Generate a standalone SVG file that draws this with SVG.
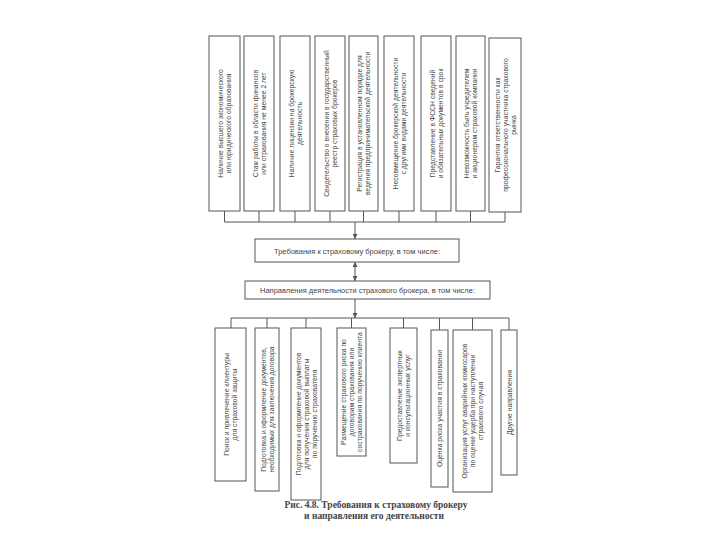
<svg xmlns="http://www.w3.org/2000/svg" width="720" height="540" viewBox="0 0 720 540">
<defs>
<marker id="ah" viewBox="0 0 6 6" refX="6" refY="3" markerWidth="5" markerHeight="5" markerUnits="userSpaceOnUse" orient="auto-start-reverse">
<path d="M0,0 L6,3 L0,6 z" fill="#555"/>
</marker>
<style>
rect.b{fill:#fff;stroke:#555;stroke-width:1}
text.t{font-family:"Liberation Sans",Arial,sans-serif;font-size:6.8px;fill:#444;text-anchor:middle}
text.m{font-family:"Liberation Sans",Arial,sans-serif;font-size:7.5px;fill:#444;text-anchor:middle}
text.c{font-family:"Liberation Serif","Times New Roman",serif;font-size:9.5px;font-weight:bold;fill:#444;text-anchor:middle}
.ln{fill:none;stroke:#555;stroke-width:1}
</style>
</defs>
<rect width="720" height="540" fill="#fff"/>

<g id="connectors">
<path class="ln" d="M224.5,211V222M259,211V222M295,211V222M330,211V222M363.5,211V222M399,211V222M436,211V222M470.5,211V222M505,212V222M224.5,222H505"/>
<path class="ln" d="M355,222V239" marker-end="url(#ah)"/>
<path class="ln" d="M355,262V281" marker-start="url(#ah)" marker-end="url(#ah)"/>
<path class="ln" d="M355,299V318" marker-end="url(#ah)"/>
<path class="ln" d="M231,318H509M231,318V328M267,318V328M306,318V328M351.5,318V328M403.5,318V328M439.5,318V330M472.5,318V330M509,318V330"/>
</g>

<g id="req1"><rect class="b" x="209" y="36" width="31" height="175"/>
<text class="t" transform="translate(224.5,123.5) rotate(-90)"><tspan x="0" y="-1.5">Наличие высшего экономического</tspan><tspan x="0" y="6.5">или юридического образования</tspan></text></g>
<g id="req2"><rect class="b" x="244" y="36" width="30" height="175"/>
<text class="t" transform="translate(259,123.5) rotate(-90)"><tspan x="0" y="-1.5">Стаж работы в области финансов</tspan><tspan x="0" y="6.5">или страхования не менее 2 лет</tspan></text></g>
<g id="req3"><rect class="b" x="280" y="36" width="30" height="175"/>
<text class="t" transform="translate(295,123.5) rotate(-90)"><tspan x="0" y="-1.5">Наличие лицензии на брокерскую</tspan><tspan x="0" y="6.5">деятельность</tspan></text></g>
<g id="req4"><rect class="b" x="315" y="36" width="30" height="175"/>
<text class="t" transform="translate(330,123.5) rotate(-90)"><tspan x="0" y="-1.5">Свидетельство о внесении в государственный</tspan><tspan x="0" y="6.5">реестр страховых брокеров</tspan></text></g>
<g id="req5"><rect class="b" x="349" y="36" width="29" height="175"/>
<text class="t" transform="translate(363.5,123.5) rotate(-90)"><tspan x="0" y="-1.5">Регистрация в установленном порядке для</tspan><tspan x="0" y="6.5">ведения предпринимательской деятельности</tspan></text></g>
<g id="req6"><rect class="b" x="384" y="36" width="30" height="175"/>
<text class="t" transform="translate(399,123.5) rotate(-90)"><tspan x="0" y="-1.5">Несовмещение брокерской деятельности</tspan><tspan x="0" y="6.5">с другими видами деятельности</tspan></text></g>
<g id="req7"><rect class="b" x="421" y="36" width="30" height="175"/>
<text class="t" transform="translate(436,123.5) rotate(-90)"><tspan x="0" y="-1.5">Представление в ФССН сведений</tspan><tspan x="0" y="6.5">и обязательных документов в срок</tspan></text></g>
<g id="req8"><rect class="b" x="456" y="36" width="29" height="175"/>
<text class="t" transform="translate(470.5,123.5) rotate(-90)"><tspan x="0" y="-1.5">Невозможность быть учредителем</tspan><tspan x="0" y="6.5">и акционером страховой компании</tspan></text></g>
<g id="req9"><rect class="b" x="489" y="38" width="32" height="174"/>
<text class="t" transform="translate(505,125) rotate(-90)"><tspan x="0" y="-5.5">Гарантия ответственности как</tspan><tspan x="0" y="2.5">профессионального участника страхового</tspan><tspan x="0" y="10.5">рынка</tspan></text></g>

<g id="requirements"><rect class="b" x="255" y="239" width="204" height="23"/>
<text class="m" x="357" y="253.5">Требования к страховому брокеру, в том числе:</text></g>
<g id="directions"><rect class="b" x="245" y="281" width="245" height="18"/>
<text class="m" x="367.5" y="292.5">Направления деятельности страхового брокера, в том числе:</text></g>

<g id="dir1"><rect class="b" x="215" y="328" width="31" height="153"/>
<text class="t" transform="translate(230.5,404.5) rotate(-90)"><tspan x="0" y="-1.5">Поиск и привлечение клиентуры</tspan><tspan x="0" y="6.5">для страховой защиты</tspan></text></g>
<g id="dir2"><rect class="b" x="255" y="328" width="24" height="163"/>
<text class="t" transform="translate(267,409.5) rotate(-90)"><tspan x="0" y="-1.5">Подготовка и оформление документов,</tspan><tspan x="0" y="6.5">необходимых для заключения договора</tspan></text></g>
<g id="dir3"><rect class="b" x="291" y="328" width="30" height="172"/>
<text class="t" transform="translate(306,414) rotate(-90)"><tspan x="0" y="-5.5">Подготовка и оформление документов</tspan><tspan x="0" y="2.5">для получения страховой выплаты</tspan><tspan x="0" y="10.5">по поручению страхователя</tspan></text></g>
<g id="dir4"><rect class="b" x="337" y="328" width="29" height="128"/>
<text class="t" transform="translate(351.5,392) rotate(-90)"><tspan x="0" y="-5.5">Размещение страхового риска по</tspan><tspan x="0" y="2.5">договорам страхования или</tspan><tspan x="0" y="10.5">сострахования по поручению клиента</tspan></text></g>
<g id="dir5"><rect class="b" x="390" y="328" width="27" height="135"/>
<text class="t" transform="translate(403.5,395.5) rotate(-90)"><tspan x="0" y="-1.5">Предоставление экспертных</tspan><tspan x="0" y="6.5">и консультационных услуг</tspan></text></g>
<g id="dir6"><rect class="b" x="431" y="330" width="17" height="157"/>
<text class="t" transform="translate(439.5,408.5) rotate(-90)"><tspan x="0" y="2.5">Оценка риска участия в страховании</tspan></text></g>
<g id="dir7"><rect class="b" x="453" y="330" width="39" height="162"/>
<text class="t" transform="translate(472.5,411) rotate(-90)"><tspan x="0" y="-5.5">Организация услуг аварийных комиссаров</tspan><tspan x="0" y="2.5">по оценке ущерба при наступлении</tspan><tspan x="0" y="10.5">страхового случая</tspan></text></g>
<g id="dir8"><rect class="b" x="501" y="330" width="16" height="145"/>
<text class="t" transform="translate(509,402.5) rotate(-90)"><tspan x="0" y="2.5">Другие направления</tspan></text></g>

<g id="caption">
<text class="c" x="376" y="508">Рис. 4.8. Требования к страховому брокеру</text>
<text class="c" x="374" y="519">и направления его деятельности</text>
</g>
</svg>
